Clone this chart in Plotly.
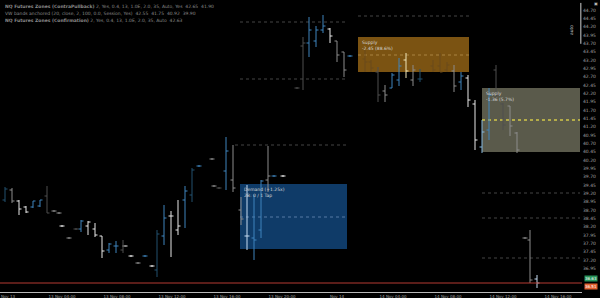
import plotly.graph_objects as go

# ---------------- data ----------------
bar_x = [5, 12, 19, 26, 33, 40, 47, 54, 59, 62, 69, 76, 81, 88, 95, 102, 109, 116, 123, 125,
         131, 138, 145, 152, 157, 164, 171, 178, 185, 192, 199, 212, 214, 219, 226, 233, 241,
         247, 254, 261, 268, 274, 283, 297, 303, 309, 316, 323, 330, 337, 344, 350, 365, 371,
         378, 385, 392, 399, 406, 413, 420, 433, 440, 447, 454, 461, 468, 475, 482, 489, 496,
         503, 510, 517, 525, 530, 537]
bar_high = [39.39, 39.36, 39.00, 38.82, 38.97, 39.00, 39.42, 38.70, 38.64, 38.25, 37.89, 38.16, 38.40, 38.37, 38.31, 37.92, 37.71, 37.77, 37.80, 37.64,
            37.35, 37.14, 37.35, 37.05, 38.10, 38.85, 38.67, 39.00, 39.42, 39.96, 40.05, 40.26, 39.45, 39.39, 40.89, 40.65, 39.09,
            39.45, 39.15, 39.60, 40.62, 39.75, 39.75, 42.39, 43.89, 44.49, 44.22, 44.55, 44.16, 43.77, 43.44, 43.35, 43.50, 43.20,
            42.99, 42.45, 42.81, 43.26, 43.41, 43.05, 42.93, 43.20, 43.41, 43.14, 43.05, 42.84, 42.75, 42.00, 41.40, 42.36, 43.05,
            41.91, 41.82, 41.04, 37.89, 38.10, 36.75]
bar_low = [38.94, 38.91, 38.55, 38.61, 38.76, 38.79, 38.61, 38.64, 38.58, 38.19, 37.83, 38.10, 38.04, 37.95, 37.89, 37.26, 37.41, 37.41, 37.41, 37.60,
           37.29, 37.08, 37.29, 36.99, 36.69, 37.65, 37.29, 37.95, 38.16, 38.94, 39.99, 40.20, 39.39, 39.33, 39.30, 39.24, 38.25,
           37.50, 37.20, 37.86, 39.24, 39.69, 39.69, 42.33, 42.30, 43.29, 43.59, 44.01, 43.71, 43.14, 42.69, 43.29, 42.84, 42.84,
           41.94, 41.94, 42.36, 42.42, 42.66, 42.42, 42.54, 42.84, 42.84, 42.84, 42.24, 42.30, 41.79, 40.50, 40.41, 40.80, 42.00,
           41.10, 40.92, 40.41, 37.83, 36.51, 36.36]
bar_open = [39.00, 39.30, 38.97, 38.79, 38.79, 38.82, 39.12, 38.67, 38.61, 38.22, 37.86, 38.13, 38.13, 38.22, 38.13, 37.92, 37.50, 37.62, 37.50, 37.62,
            37.32, 37.11, 37.32, 37.02, 36.90, 37.92, 38.52, 38.10, 39.00, 39.15, 40.02, 40.23, 39.42, 39.36, 39.87, 39.60, 38.70,
            37.92, 37.86, 38.10, 39.60, 39.72, 39.72, 42.36, 43.62, 43.71, 43.77, 44.10, 44.13, 43.77, 43.44, 43.32, 43.23, 43.14,
            42.84, 42.27, 42.36, 42.60, 43.20, 42.60, 42.63, 43.02, 43.02, 42.90, 42.87, 42.54, 42.66, 41.88, 40.59, 41.10, 42.90,
            41.88, 41.82, 41.01, 37.86, 37.80, 36.63]
bar_close = [39.33, 38.97, 38.73, 38.64, 38.97, 39.00, 38.61, 38.67, 38.61, 38.22, 37.86, 38.13, 38.37, 38.34, 37.95, 37.47, 37.68, 37.62, 37.62, 37.62,
             37.32, 37.11, 37.32, 37.02, 37.98, 38.46, 38.52, 38.22, 39.27, 39.90, 40.02, 40.23, 39.42, 39.36, 40.47, 39.36, 38.43,
             37.92, 37.80, 39.57, 39.72, 39.72, 39.72, 42.36, 43.71, 44.10, 44.10, 44.22, 43.92, 43.35, 42.90, 43.32, 43.14, 42.96,
             42.15, 42.15, 42.75, 43.02, 42.87, 42.90, 42.63, 42.90, 42.84, 43.05, 42.42, 42.72, 42.00, 40.80, 41.04, 42.15, 42.15,
             41.25, 41.22, 40.50, 37.86, 36.60, 36.51]
bar_kind = ["dk", "gr", "wh", "wh", "bl", "bl", "dg", "gr", "gr", "wh", "gr", "dg", "bl", "wh", "wh", "wh", "bl", "bl", "dg", "wh",
            "wh", "gr", "bl", "wh", "dk", "bl", "wh", "wh", "bl", "dk", "bl", "gr", "gr", "dg", "bl", "gr", "gr",
            "lw", "bl", "bl", "gr", "bl", "wh", "dg", "dg", "bl", "bl", "bl", "wh", "gr", "gr", "bl", "br", "br",
            "dg", "gr", "bl", "bl", "yw", "gr", "dk", "br", "br", "br", "gr", "bl", "wh", "wh", "lb", "bl", "dg",
            "dg", "gr", "gr", "gr", "gr", "lw"]

# zones
zone_x0 = [240, 358, 482]
zone_x1 = [347, 469, 580]
zone_top = [39.48, 43.89, 42.36]
zone_bot = [37.53, 42.84, 40.44]
zone_mid = [38.49, 43.35, 41.40]
zone_title = ["Demand (+1.25x)", "Supply", "Supply"]
zone_sub = ["2B: 0 / 1 Tap", "-2.45 (88.6%)", "-1.36 (5.7%)"]

# dotted levels
level_x0 = [240, 240, 358, 235, 482, 482, 482]
level_x1 = [347, 347, 470, 347, 580, 580, 580]
level_price = [44.34, 42.63, 44.52, 40.65, 39.21, 38.46, 37.26]

last_price = 36.51
bid_price = 36.63

y_tickvals = [36.95, 37.20, 37.45, 37.70, 37.95, 38.20, 38.45, 38.70, 38.95, 39.20, 39.45, 39.70,
              39.95, 40.20, 40.45, 40.70, 40.95, 41.20, 41.45, 41.70, 41.95, 42.20, 42.45, 42.70,
              42.95, 43.20, 43.45, 43.70, 43.95, 44.20, 44.45, 44.70]

x_tickvals = [8, 62, 117, 172, 227, 282, 337, 393, 448, 503, 558]
x_ticktext = ["Nov 13", "13 Nov 04:00", "13 Nov 08:00", "13 Nov 12:00", "13 Nov 16:00", "13 Nov 20:00",
              "Nov 14", "14 Nov 04:00", "14 Nov 08:00", "14 Nov 12:00", "14 Nov 16:00"]

legend_lines = [
    "<b>NQ Futures Zones (ContraPullback)</b> 2, Yes, 0.4, 13, 1.0E, 2.0, 35, Auto, Yes  42.65  41.90",
    "VW bands anchored (20, close, 2, 100, 0.0, Session, Yes)  42.55  41.75  40.92  39.90",
    "<b>NQ Futures Zones (Confirmation)</b> 2, Yes, 0.4, 13, 1.0E, 2.0, 35, Auto  42.63",
]

# ---------------- styles ----------------
kind_color = {"wh": "#e8e8e8", "lw": "#c6dcf2", "bl": "#3f84bd", "lb": "#86b8de", "dk": "#23506f",
              "gr": "#8c8c8c", "dg": "#4e4e4e", "br": "#6b4b1a", "yw": "#f0e6b8"}
zone_fill = ["#0f3b68", "#7b5312", "#5a5a4b"]
zone_midcol = ["#3f6690", "#9a7432", "#d2c84a"]

fig = go.Figure()

for i in range(len(zone_x0)):
    fig.add_shape(type="rect", x0=zone_x0[i], x1=zone_x1[i], y0=zone_bot[i], y1=zone_top[i],
                  fillcolor=zone_fill[i], line=dict(width=0), layer="below")
    fig.add_shape(type="line", x0=zone_x0[i], x1=zone_x1[i], y0=zone_mid[i], y1=zone_mid[i],
                  line=dict(color=zone_midcol[i], width=1.3, dash="dot"), layer="below")
    fig.add_annotation(x=zone_x0[i] + 2, y=zone_top[i], xanchor="left", yanchor="top",
                       text=zone_title[i] + "<br>" + zone_sub[i], showarrow=False, align="left",
                       font=dict(size=4.5, color="#d8d8d8", family="DejaVu Sans"), yshift=-1)

for i in range(len(level_x0)):
    fig.add_shape(type="line", x0=level_x0[i], x1=level_x1[i], y0=level_price[i], y1=level_price[i],
                  line=dict(color="#444444", width=1, dash="dot"), layer="below")

fig.add_shape(type="line", xref="paper", x0=0, x1=1, y0=last_price, y1=last_price,
              line=dict(color="#b53a32", width=1))

half = 2.5
for kind, col in kind_color.items():
    xs, ys = [], []
    for x, h, l, o, c, k in zip(bar_x, bar_high, bar_low, bar_open, bar_close, bar_kind):
        if k != kind:
            continue
        xs += [x, x, None, x - half, x, None, x, x + half, None]
        ys += [h, l, None, o, o, None, c, c, None]
    if xs:
        fig.add_trace(go.Scatter(x=xs, y=ys, mode="lines", line=dict(color=col, width=1),
                                 hoverinfo="skip", showlegend=False))

fig.add_annotation(xref="paper", x=1.0, y=bid_price, xanchor="left", yanchor="middle",
                   text=f"{bid_price:.2f}", showarrow=False, bgcolor="#27945a",
                   font=dict(size=4, color="#ffffff", family="DejaVu Sans"), borderpad=0, xshift=2, yshift=1)
fig.add_annotation(xref="paper", x=1.0, y=last_price, xanchor="left", yanchor="middle",
                   text=f"{last_price:.2f}", showarrow=False, bgcolor="#e2602f",
                   font=dict(size=4, color="#ffffff", family="DejaVu Sans"), borderpad=0, xshift=2, yshift=-3)

for j, line in enumerate(legend_lines):
    fig.add_annotation(xref="paper", yref="paper", x=0.005, y=1, xanchor="left", yanchor="top",
                       yshift=-2 - 7 * j, text=line, showarrow=False,
                       font=dict(size=4.5, color="#8a8a8a", family="DejaVu Sans"))

fig.add_shape(type="line", xref="paper", yref="paper", x0=0.998, x1=0.998, y0=0.99, y1=0.85,
              line=dict(color="#d0d0d0", width=1))
fig.add_annotation(xref="paper", yref="paper", x=0.99, y=0.92, text="auto", textangle=-90,
                   showarrow=False, font=dict(size=4.5, color="#c0c0c0", family="DejaVu Sans"))
fig.add_annotation(xref="paper", yref="paper", x=1.0, y=1.0, xanchor="left", yanchor="top",
                   xshift=10, yshift=1, text="▣", showarrow=False,
                   font=dict(size=4, color="#bbbbbb"))

fig.update_layout(
    width=600, height=298,
    margin=dict(l=0, r=18, t=0, b=6),
    paper_bgcolor="#000000", plot_bgcolor="#000000",
    showlegend=False,
    xaxis=dict(range=[0, 582], tickvals=x_tickvals, ticktext=x_ticktext, showgrid=False,
               zeroline=False, showline=True, linecolor="#b8b8b8", linewidth=1, ticks="",
               tickfont=dict(size=4, color="#a0a0a0", family="DejaVu Sans"), automargin=False),
    yaxis=dict(range=[36.24, 45.0], side="right", tickvals=y_tickvals, tickformat=".2f",
               showgrid=False, zeroline=False, ticks="", showline=False,
               tickfont=dict(size=4.5, color="#a0a0a0", family="DejaVu Sans"), automargin=False),
)

fig.write_html("out.html")
